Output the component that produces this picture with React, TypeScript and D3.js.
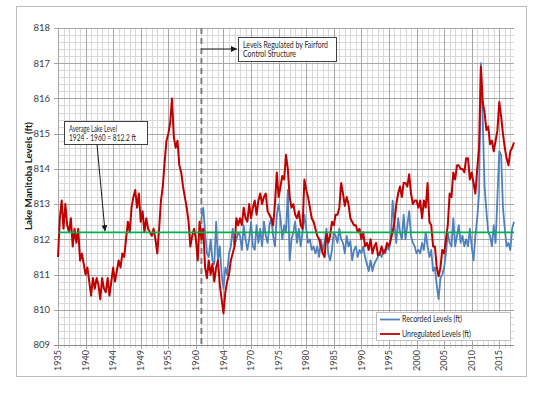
import * as d3 from "d3";
import React, { useEffect, useRef } from "react";

// y axis (ft) and x axis labels as printed on the chart
const yTicks = [809, 810, 811, 812, 813, 814, 815, 816, 817, 818];
const xTickLabels = ["1935", "1940", "1944", "1949", "1955", "1960", "1964", "1970", "1975",
    "1980", "1985", "1990", "1995", "2000", "2005", "2010", "2015"];

const unregulatedStart = 1935;
const recordedStart = 1961;
const samplesPerYear = 3;
const averageLevel = 812.2;
const regulationYear = 1961;
const seriesNames = ["Recorded Levels (ft)", "Unregulated Levels (ft)"];

// Unregulated levels, 3 readings per year from 1935
const unregulated = [
    811.5, 812.6, 813.1, 812.3, 813.0, 812.4, 812.2, 812.6, 811.8, 812.3, 811.9, 812.3,
    811.4, 811.6, 811.3, 811.0, 811.2, 810.8, 810.4, 810.9, 810.6, 810.9, 810.7, 810.3,
    810.9, 810.6, 810.5, 810.9, 810.4, 810.8, 811.2, 810.8, 811.1, 811.4, 811.2, 811.6,
    811.5, 812.0, 812.5, 812.2, 812.9, 813.2, 813.4, 812.9, 813.3, 812.5, 812.8, 812.2,
    812.6, 812.3, 812.2,
    812.1, 812.3, 812.0, 811.6, 812.3, 813.1, 813.5, 814.2, 814.8, 815.0, 815.3, 816.0,
    814.9, 814.6, 814.8, 814.1, 813.9, 813.5, 813.2, 812.9, 812.5, 811.8, 812.1, 812.3,
    812.0, 811.4, 812.5, 812.0, 812.3, 811.2, 810.9, 811.4, 811.0, 811.3, 810.8, 811.2,
    811.4, 810.7, 810.3, 809.9, 810.5, 810.8, 811.0, 811.4, 811.6, 811.8, 812.6, 812.4,
    812.6, 812.4, 812.9, 812.6, 812.5, 813.0, 812.6, 812.9, 813.1, 812.7, 813.1, 813.3,
    813.0, 813.2, 813.3, 812.8, 812.7, 812.6, 812.4, 813.0, 813.9, 813.2, 813.5, 813.8,
    813.7, 814.4, 814.0, 813.2, 812.9, 813.0, 812.7, 812.6, 812.8, 812.4, 812.3, 813.7,
    813.4, 813.2, 812.9, 812.6, 812.5, 812.3, 812.1, 812.0, 811.8, 811.6, 811.5, 812.2,
    811.9, 812.1,
    812.5, 812.4, 812.7, 812.7, 812.9, 813.6, 813.3, 812.95, 813.2, 813.0, 812.6, 812.5,
    812.4, 812.4, 812.2, 812.3, 812.0, 812.2, 811.8, 811.9, 811.7, 812.0, 811.6, 811.8,
    811.9, 811.55, 811.6, 811.8, 811.6, 811.7, 811.9, 811.8, 812.0, 812.2, 812.5, 813.0,
    813.3, 813.5, 813.2, 813.6, 813.6, 813.5, 813.85, 813.3, 813.0, 813.1, 813.1, 812.9,
    813.1,
    812.6, 813.1, 812.9, 813.6, 812.5, 812.4, 811.8, 811.8, 811.2, 810.95, 811.2, 811.7,
    811.6, 812.0, 812.4, 813.3, 813.2, 813.9, 813.7, 814.1, 814.1, 814.0, 814.0, 813.9,
    814.3, 814.3, 813.7, 813.9, 813.6, 813.3, 814.0, 814.6, 816.9, 815.9, 815.6, 815.1,
    815.2, 814.7, 814.8, 814.5, 814.8, 815.1, 815.9, 815.5, 815.0, 814.6, 814.3, 814.1,
    814.5, 814.6, 814.75,
];

// Recorded levels, 3 readings per year from 1961
const recorded = [
    812.6, 812.9, 812.2, 811.6, 811.5, 812.0, 811.4, 811.3, 812.5, 811.4, 811.8, 811.0,
    810.6, 811.2, 811.0, 811.6, 811.8, 812.3, 811.8, 812.0, 812.2,
    812.1, 811.7, 812.4, 812.0, 811.7, 812.0, 812.5, 811.8, 811.7, 812.4, 811.9, 812.3,
    811.8, 812.5, 812.1, 811.9, 812.4, 812.6, 812.1, 811.8, 812.7, 813.0, 812.6, 812.0,
    812.4, 812.2, 813.4, 811.4, 812.0, 812.2, 812.5, 811.9, 812.3, 811.8, 812.2, 812.7,
    812.3, 811.9, 812.0, 811.7, 811.8, 811.6, 811.8, 811.5, 812.0, 811.7, 811.9, 812.3,
    811.6, 811.4,
    811.7, 812.2, 812.1, 811.9, 812.3, 812.0, 811.9, 811.6, 812.1, 811.8, 811.95, 811.4,
    811.7, 811.8, 811.5, 811.7, 811.6, 811.8, 811.5, 811.3, 811.1, 811.4, 811.1, 811.3,
    811.4, 811.5, 811.6, 811.5, 811.7, 811.6, 811.8, 811.7, 812.0, 813.1, 812.4, 811.9,
    812.6, 812.2, 812.0, 812.7, 812.0, 812.4, 812.8, 812.1, 811.9, 811.8, 811.6, 811.7,
    811.6,
    811.9, 811.7, 812.2, 811.8, 811.5, 811.7, 811.1, 811.2, 810.7, 810.3, 810.9, 811.0,
    811.2, 811.6, 812.2, 811.9, 811.8, 812.6, 811.8, 812.1, 812.4, 811.9, 812.1, 811.8,
    812.0, 811.8, 812.3, 811.8, 811.4, 812.1, 812.6, 813.3, 817.0, 815.4, 813.5, 812.8,
    812.2, 812.1, 811.8, 812.4, 811.9, 813.2, 814.5, 814.4, 812.9, 812.3, 811.8, 811.9,
    811.7, 812.3, 812.5,
];

const FONT = "Lato, 'Open Sans', sans-serif";

export default function App() {
    const wrapper = useRef<SVGSVGElement>(null);

    useEffect(() => {
        const svg = d3.select(wrapper.current);
        svg.selectAll("*").remove();

        const plot = { left: 58, top: 28, right: 514, bottom: 345 };
        const x = d3.scaleLinear().domain([1935, 2017.67]).range([plot.left, plot.right]);
        const y = d3.scaleLinear().domain([809, 818]).range([plot.bottom, plot.top]);
        const px = (v) => Math.round(v) + 0.5;

        const defs = svg.append("defs");
        defs.append("marker")
            .attr("id", "arrowHead")
            .attr("viewBox", "0 -5 10 10")
            .attr("refX", 10)
            .attr("markerWidth", 6)
            .attr("markerHeight", 6)
            .attr("markerUnits", "userSpaceOnUse")
            .attr("orient", "auto")
            .append("path")
            .attr("d", "M0,-5 L10,0 L0,5 Z")
            .attr("fill", "#1a1a1a");

        // chart area frame
        svg.append("rect")
            .attr("x", 16.5).attr("y", 6.5)
            .attr("width", 510).attr("height", 370)
            .attr("fill", "#fff")
            .attr("stroke", "#bdbdbd");

        const grid = svg.append("g");
        const minorY = d3.range(0, 45).map((i) => 809 + i * 0.2).filter((_, i) => i % 5 !== 0);
        grid.selectAll(null).data(minorY).enter().append("line")
            .attr("x1", plot.left).attr("x2", plot.right)
            .attr("y1", (d) => px(y(d))).attr("y2", (d) => px(y(d)))
            .attr("stroke", "#d9d9d9");
        const minorX = d3.range(1936, 2018).filter((d) => (d - 1935) % 5 !== 0);
        grid.selectAll(null).data(minorX).enter().append("line")
            .attr("y1", plot.top).attr("y2", plot.bottom + 3)
            .attr("x1", (d) => px(x(d))).attr("x2", (d) => px(x(d)))
            .attr("stroke", "#d9d9d9");
        grid.selectAll(null).data(yTicks).enter().append("line")
            .attr("x1", plot.left - 4).attr("x2", plot.right)
            .attr("y1", (d) => px(y(d))).attr("y2", (d) => px(y(d)))
            .attr("stroke", (d) => (d === 809 ? "#8c8c8c" : "#a6a6a6"));
        grid.selectAll(null).data(xTickLabels).enter().append("line")
            .attr("y1", plot.top).attr("y2", plot.bottom + 4)
            .attr("x1", (_, i) => px(x(1935 + i * 5))).attr("x2", (_, i) => px(x(1935 + i * 5)))
            .attr("stroke", "#a6a6a6");

        // axis labels
        svg.append("g").selectAll(null).data(yTicks).enter().append("text")
            .attr("x", 50).attr("y", (d) => y(d)).attr("dy", "0.35em")
            .attr("text-anchor", "end")
            .attr("font-family", FONT).attr("font-size", 9.5).attr("fill", "#404040")
            .text((d) => d);
        svg.append("g").selectAll(null).data(xTickLabels).enter().append("text")
            .attr("transform", (_, i) => `translate(${x(1935 + i * 5)},${plot.bottom + 5}) rotate(-90)`)
            .attr("dy", "0.35em")
            .attr("text-anchor", "end")
            .attr("font-family", FONT).attr("font-size", 9).attr("fill", "#404040")
            .text((d) => d);
        svg.append("text")
            .attr("transform", `translate(32,176) rotate(-90)`)
            .attr("text-anchor", "middle")
            .attr("font-family", FONT).attr("font-size", 9.5).attr("font-weight", "bold")
            .attr("fill", "#1a1a1a")
            .attr("textLength", 108).attr("lengthAdjust", "spacingAndGlyphs")
            .text("Lake Manitoba Levels (ft)");

        // regulation start
        svg.append("line")
            .attr("x1", x(regulationYear)).attr("x2", x(regulationYear))
            .attr("y1", plot.top).attr("y2", plot.bottom)
            .attr("stroke", "#7f7f7f").attr("stroke-width", 2).attr("stroke-dasharray", "6,4");

        // series
        const line = d3.line()
            .x((d) => x(d[0]))
            .y((d) => y(d[1]));
        const recordedPts = recorded.map((v, i) => [recordedStart + i / samplesPerYear, v]);
        const unregulatedPts = unregulated.map((v, i) => [unregulatedStart + i / samplesPerYear, v]);
        svg.append("path").attr("d", line(recordedPts))
            .attr("fill", "none").attr("stroke", "#4f81bd").attr("stroke-width", 1.8)
            .attr("stroke-linejoin", "round");
        svg.append("path").attr("d", line(unregulatedPts))
            .attr("fill", "none").attr("stroke", "#c00000").attr("stroke-width", 2)
            .attr("stroke-linejoin", "round");

        // long-term average
        svg.append("line")
            .attr("x1", plot.left).attr("x2", plot.right)
            .attr("y1", y(averageLevel)).attr("y2", y(averageLevel))
            .attr("stroke", "#00b050").attr("stroke-width", 1.8);

        // callouts
        const callout = (bx, by, bw, bh, lines, lengths) => {
            svg.append("rect")
                .attr("x", bx + 0.5).attr("y", by + 0.5).attr("width", bw).attr("height", bh)
                .attr("fill", "#fff").attr("stroke", "#404040");
            lines.forEach((t, i) => {
                svg.append("text")
                    .attr("x", bx + 5).attr("y", by + 10.5 + i * 9.5)
                    .attr("font-family", FONT).attr("font-size", 8.5).attr("fill", "#262626")
                    .attr("textLength", lengths[i]).attr("lengthAdjust", "spacingAndGlyphs")
                    .text(t);
            });
        };
        callout(238, 37, 98, 24, ["Levels Regulated by Fairford", "Control Structure"], [85, 53]);
        svg.append("line")
            .attr("x1", x(regulationYear)).attr("x2", 237)
            .attr("y1", 49).attr("y2", 49)
            .attr("stroke", "#1a1a1a").attr("marker-end", "url(#arrowHead)");

        callout(64, 121, 83, 23, ["Average Lake Level", "1924 - 1960 = 812.2 ft"], [48, 67]);
        svg.append("line")
            .attr("x1", 97).attr("y1", 144.5)
            .attr("x2", 105).attr("y2", y(averageLevel) - 1)
            .attr("stroke", "#1a1a1a").attr("marker-end", "url(#arrowHead)");

        // legend
        const legend = svg.append("g").attr("transform", "translate(376,312)");
        legend.append("rect")
            .attr("x", 0.5).attr("y", 0.5).attr("width", 134).attr("height", 28)
            .attr("fill", "#fff").attr("stroke", "#bfbfbf");
        const legendColors = ["#4f81bd", "#c00000"];
        seriesNames.forEach((name, i) => {
            legend.append("line")
                .attr("x1", 4).attr("x2", 24).attr("y1", 7.5 + i * 14.5).attr("y2", 7.5 + i * 14.5)
                .attr("stroke", legendColors[i]).attr("stroke-width", 1.8);
            legend.append("text")
                .attr("x", 26).attr("y", 7.5 + i * 14.5).attr("dy", "0.35em")
                .attr("font-family", FONT).attr("font-size", 8.5).attr("fill", "#262626")
                .attr("textLength", i === 0 ? 60 : 69).attr("lengthAdjust", "spacingAndGlyphs")
                .text(name);
        });
    }, []);

    return (
        <svg
            ref={wrapper}
            width={550}
            height={395}
            style={{ position: "absolute", left: 0, top: 0, background: "#fff" }}
        />
    );
}
